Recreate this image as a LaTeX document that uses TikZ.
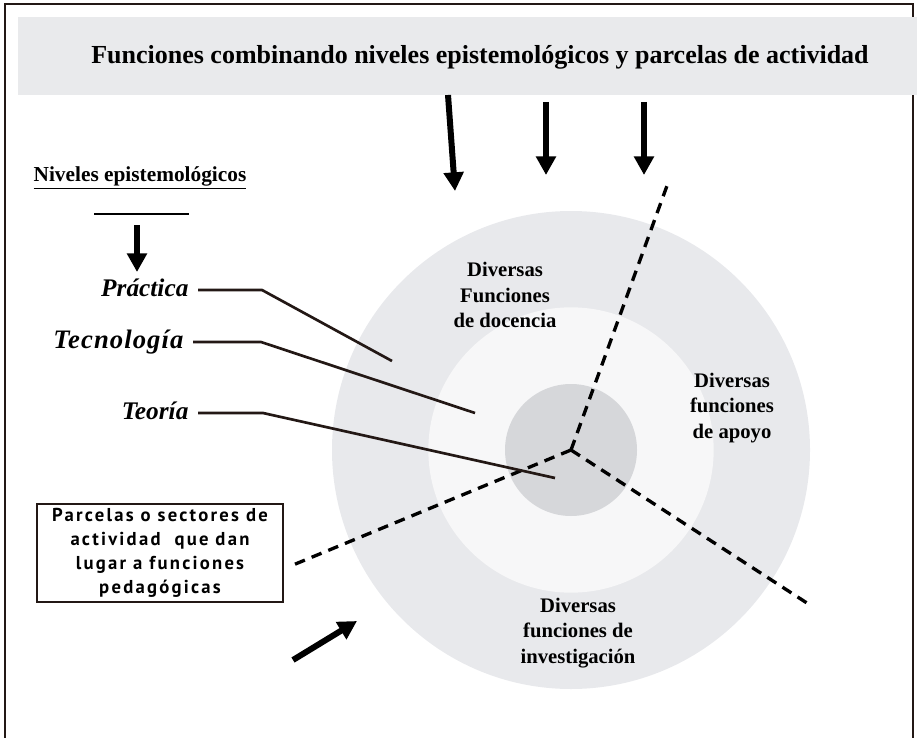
\documentclass[tikz,border=0pt]{standalone}
\usepackage{fontspec}
\setmainfont{Liberation Serif}
\newfontfamily\boxfont[LetterSpace=12]{PT Sans}
\usetikzlibrary{arrows.meta}

\definecolor{outergray}{HTML}{E8E9EC}
\definecolor{midgray}{HTML}{F7F7F8}
\definecolor{innergray}{HTML}{D6D7DA}
\definecolor{bannergray}{HTML}{E9EAEC}
\definecolor{darkbrown}{HTML}{231815}

\tikzset{
  frameline/.style={line width=1.5pt, draw=darkbrown},
  bigarrow/.style={line width=4.5pt, -{Triangle[width=14.5pt,length=14pt]}},
  sector/.style={line width=2.5pt, dash pattern=on 8pt off 5.5pt},
  leader/.style={line width=2pt, draw=darkbrown},
  circtext/.style={font=\bfseries\fontsize{15.5}{19}\selectfont, align=center},
  level/.style={font=\bfseries\itshape\fontsize{19}{22}\selectfont, anchor=east,
    text height=0.94em, text depth=0pt, inner xsep=7pt},
}

\begin{document}
\begin{tikzpicture}[x=0.75pt,y=-0.75pt]
    \useasboundingbox (0,0) rectangle (917,738);

    % frame and banner
    \draw[frameline] (5,738) -- (5,4) -- (913,4) -- (913,738);
    \fill[bannergray] (18,17) rectangle (917,95);
    \node[font=\bfseries\fontsize{19.5}{23}\selectfont] (title) at (480,57)
        {Funciones combinando niveles epistemológicos y parcelas de actividad};

    % circles
    \coordinate (ctr) at (571,450);
    \fill[outergray] (ctr) circle[radius=179.25pt];
    \fill[midgray] (ctr) circle[radius=107pt];
    \fill[innergray] (ctr) circle[radius=49.5pt];

    \node[circtext] (docencia) at (505,295) {Diversas\\Funciones\\de docencia};
    \node[circtext] (apoyo) at (732,408) {Diversas\\funciones\\de apoyo};
    \node[circtext] (investig) at (578,633) {Diversas\\funciones de\\investigación};

    % sectors
    \coordinate (secA) at (668,183);
    \coordinate (secB) at (293,565);
    \coordinate (secC) at (810,605);
    \draw[sector] (ctr) -- (secA);
    \draw[sector] (ctr) -- (secB);
    \draw[sector] (ctr) -- (secC);

    % arrows from the banner
    \coordinate (tailA) at (448,95);
    \coordinate (tipA) at (455,191);
    \coordinate (tailB) at (546,102);
    \coordinate (tipB) at (546,175);
    \coordinate (tailC) at (644,102);
    \coordinate (tipC) at (644,175);
    \draw[bigarrow] (tailA) -- (tipA);
    \draw[bigarrow] (tailB) -- (tipB);
    \draw[bigarrow] (tailC) -- (tipC);

    % epistemological levels
    \node[font=\bfseries\fontsize{16}{19}\selectfont] (niveles) at (140,178)
        {\underline{Niveles epistemológicos}};
    \coordinate (barL) at (94,214);
    \coordinate (barR) at (189,214);
    \draw[line width=2.2pt] (barL) -- (barR);
    \coordinate (tailN) at (137,225);
    \coordinate (tipN) at (137,272);
    \draw[bigarrow] (tailN) -- (tipN);

    \node[level] (practica) at (198,290) {Práctica};
    \node[level] (tecno) at (193,342) {\fontsize{20}{22}\selectfont\addfontfeature{LetterSpace=4}Tecnología};
    \node[level] (teoria) at (198,413) {Teoría};

    \coordinate (endP) at (392,361);
    \coordinate (endT) at (475,413);
    \coordinate (endR) at (555,478);
    \draw[leader] (practica.east) -- ++(64,0) -- (endP);
    \draw[leader] (tecno.east) -- ++(68,0) -- (endT);
    \draw[leader] (teoria.east) -- ++(65,0) -- (endR);

    % activity sectors
    \node[draw=darkbrown, line width=1.5pt, fill=white, minimum width=184.5pt,
        minimum height=70.5pt, align=center,
        font=\boxfont\bfseries\fontsize{14}{18}\selectfont] (parcelas) at (160,553)
        {Parcelas o sectores de\\actividad \ que dan\\lugar a funciones\\pedagógicas};
    \coordinate (tailS) at (293,660);
    \coordinate (tipS) at (357,621);
    \draw[bigarrow] (tailS) -- (tipS);
\end{tikzpicture}
\end{document}
